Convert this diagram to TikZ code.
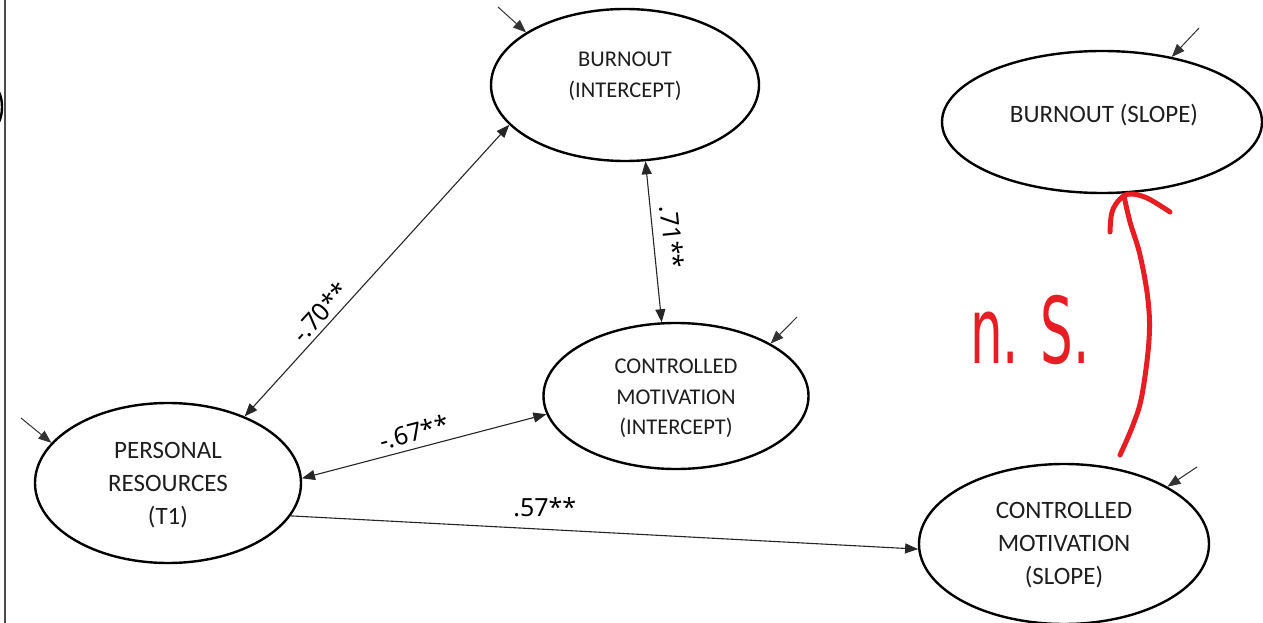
\documentclass[tikz,border=0pt]{standalone}
\usepackage{fontspec}
\setmainfont{Carlito}
\newfontfamily\handfont{DejaVu Sans}
\newfontfamily\coeffont{Noto Sans}
\usetikzlibrary{shapes.geometric,arrows.meta}
\definecolor{handred}{RGB}{230,30,36}
\definecolor{txtgray}{RGB}{30,30,30}
\begin{document}
\begin{tikzpicture}[x=1pt,y=-1pt,
  ell/.style={ellipse, draw=black, line width=2.4pt, inner sep=0pt},
  bigtxt/.style={font=\fontsize{25}{33}\selectfont, text=txtgray, align=center, inner sep=0pt},
  smalltxt/.style={font=\fontsize{22.5}{30.5}\selectfont, text=txtgray, align=center, inner sep=0pt},
  conn/.style={line width=1.1pt, black!85, {Triangle[length=13pt,width=10pt]}-{Triangle[length=13pt,width=10pt]}},
  oneway/.style={line width=1.1pt, black!85, -{Triangle[length=13pt,width=10pt]}},
  err/.style={line width=1pt, black!80, -{Triangle[length=13pt,width=10pt]}},
  coef/.style={font=\coeffont\fontsize{25}{25}\selectfont, text=black, inner sep=2pt},
  hand/.style={handred, line width=5pt, line cap=round, line join=round}
]
\fill[white] (0,0) rectangle (1263,623);
\useasboundingbox (0,0) rectangle (1263,623);

% frame fragments at the left edge
\draw[line width=1.6pt, black!70] (5,0) -- (5,623);
\draw[line width=2.4pt] (-1,92) .. controls (3,100) and (3,114) .. (-1,122);

% latent variables
\node[ell, minimum width=266pt, minimum height=160pt] (pr)  at (168,483) {};
\node[ell, minimum width=268pt, minimum height=152pt] (bi)  at (625,85)  {};
\node[ell, minimum width=265pt, minimum height=146pt] (cmi) at (676,396) {};
\node[ell, minimum width=320pt, minimum height=142pt] (bs)  at (1102,122) {};
\node[ell, minimum width=290pt, minimum height=160pt] (cms) at (1064,544) {};

% texts
\node[bigtxt]   (prt)  at (168,485)  {PERSONAL\\RESOURCES\\(T1)};
\node[smalltxt] (bit)  at (625,76.5) {BURNOUT\\(INTERCEPT)};
\node[smalltxt] (cmit) at (676,398.5) {CONTROLLED\\MOTIVATION\\(INTERCEPT)};
\node[bigtxt]   (bst)  at (1104,115) {BURNOUT (SLOPE)};
\node[bigtxt]   (cmst) at (1064,545.5) {CONTROLLED\\MOTIVATION\\(SLOPE)};

% residual arrows
\coordinate (epr)  at (21,418);
\coordinate (ebi)  at (498,7);
\coordinate (ebs)  at (1199,28);
\coordinate (ecmi) at (797,317);
\coordinate (ecms) at (1197,467);
\draw[err] (epr)  -- (pr.161);
\draw[err] (ebi)  -- (bi.152);
\draw[err] (ebs)  -- (bs.43);
\draw[err] (ecmi) -- (cmi.29);
\draw[err] (ecms) -- (cms.29);

% paths
\draw[conn] (pr.41) -- (bi.199)
  node[coef, pos=0.325, sloped, above=2pt] {-.70**};
\draw[conn] (pr.2) -- (cmi.188)
  node[coef, pos=0.475, sloped, above=4pt] {-.67**};
\draw[oneway] (pr.-15) -- (cms.182)
  node[coef, pos=0.405, above=10pt] {.57**};
\draw[conn] (bi.-75) -- (cmi.101)
  node[coef, pos=0.484, sloped, above=7pt] {.71**};

% red hand-drawn annotation
\draw[hand] plot[smooth, tension=0.6] coordinates
  {(1120,455) (1133,425) (1142,395) (1149,340) (1148,300) (1140,255) (1130,222) (1124,196)};
\draw[hand] plot[smooth, tension=0.6] coordinates
  {(1110,232) (1112,212) (1120,199) (1130,194) (1147,198) (1170,212)};
\node[text=handred, inner sep=0pt] (ns) at (1030,330)
  {\handfont\fontsize{92}{92}\selectfont\scalebox{0.56}[1]{n. S.}};
\end{tikzpicture}
\end{document}
